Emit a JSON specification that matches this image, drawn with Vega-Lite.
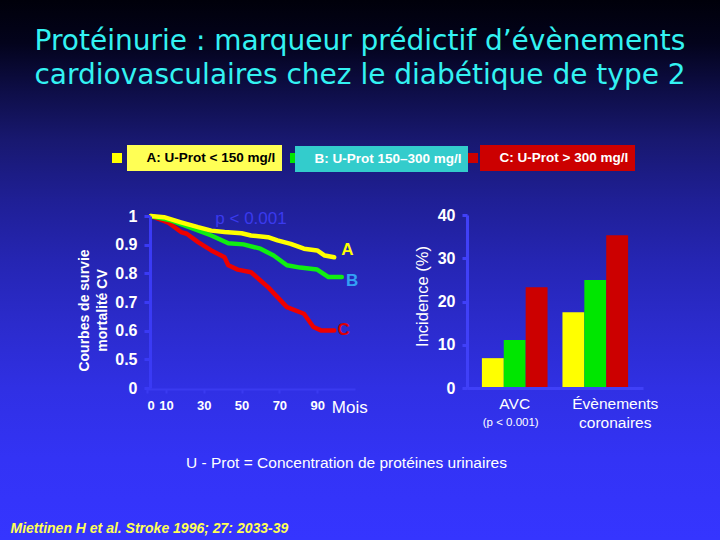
{
  "$schema": "https://vega.github.io/schema/vega-lite/v6.json",
  "width": 720,
  "height": 540,
  "autosize": {"type": "none"},
  "padding": 0,
  "background": "#00000a",
  "config": {"view": {"stroke": null}, "axis": {"grid": false, "zindex": 1}, "font": "Liberation Sans"},
  "title": {
    "text": ["Protéinurie : marqueur prédictif d’évènements", "cardiovasculaires chez le diabétique de type 2"],
    "anchor": "middle",
    "frame": "group",
    "offset": -90,
    "font": "DejaVu Sans",
    "fontSize": 28,
    "fontWeight": "normal",
    "color": "#33f2f2",
    "lineHeight": 34
  },
  "datasets": {
    "surv": [
      {"g": "A", "m": 2, "s": 1.0}, {"g": "A", "m": 9, "s": 0.996}, {"g": "A", "m": 18, "s": 0.978},
      {"g": "A", "m": 27, "s": 0.961}, {"g": "A", "m": 34, "s": 0.949}, {"g": "A", "m": 41, "s": 0.944},
      {"g": "A", "m": 50, "s": 0.94}, {"g": "A", "m": 55, "s": 0.932}, {"g": "A", "m": 64, "s": 0.926},
      {"g": "A", "m": 69, "s": 0.915}, {"g": "A", "m": 76, "s": 0.903}, {"g": "A", "m": 83, "s": 0.886},
      {"g": "A", "m": 90, "s": 0.88}, {"g": "A", "m": 94, "s": 0.862}, {"g": "A", "m": 99, "s": 0.856},
      {"g": "B", "m": 2, "s": 1.0}, {"g": "B", "m": 13, "s": 0.984}, {"g": "B", "m": 23, "s": 0.959},
      {"g": "B", "m": 34, "s": 0.932}, {"g": "B", "m": 43, "s": 0.905}, {"g": "B", "m": 51, "s": 0.901},
      {"g": "B", "m": 60, "s": 0.886}, {"g": "B", "m": 67, "s": 0.862}, {"g": "B", "m": 74, "s": 0.828},
      {"g": "B", "m": 81, "s": 0.82}, {"g": "B", "m": 90, "s": 0.813}, {"g": "B", "m": 96, "s": 0.787},
      {"g": "B", "m": 103, "s": 0.787},
      {"g": "C", "m": 2, "s": 1.0}, {"g": "C", "m": 11, "s": 0.978}, {"g": "C", "m": 18, "s": 0.944},
      {"g": "C", "m": 21, "s": 0.938}, {"g": "C", "m": 27, "s": 0.909}, {"g": "C", "m": 34, "s": 0.88},
      {"g": "C", "m": 41, "s": 0.856}, {"g": "C", "m": 43, "s": 0.828}, {"g": "C", "m": 48, "s": 0.813},
      {"g": "C", "m": 55, "s": 0.804}, {"g": "C", "m": 60, "s": 0.775}, {"g": "C", "m": 64, "s": 0.752},
      {"g": "C", "m": 69, "s": 0.717}, {"g": "C", "m": 74, "s": 0.682}, {"g": "C", "m": 83, "s": 0.659},
      {"g": "C", "m": 88, "s": 0.613}, {"g": "C", "m": 92, "s": 0.601}, {"g": "C", "m": 99, "s": 0.601}
    ],
    "ann": [
      {"t": "A", "m": 106, "s": 0.88},
      {"t": "B", "m": 108.5, "s": 0.772},
      {"t": "C", "m": 104, "s": 0.601},
      {"t": "p < 0.001", "m": 55, "s": 0.99}
    ],
    "inc": [
      {"cat": "AVC", "g": "A", "v": 6.9},
      {"cat": "AVC", "g": "B", "v": 11.1},
      {"cat": "AVC", "g": "C", "v": 23.3},
      {"cat": "Évènements coronaires", "g": "A", "v": 17.5},
      {"cat": "Évènements coronaires", "g": "B", "v": 25.0},
      {"cat": "Évènements coronaires", "g": "C", "v": 35.3}
    ]
  },
  "layer": [
    {
      "data": {"values": [{}]},
      "mark": {
        "type": "rect",
        "strokeWidth": 0,
        "fill": {
          "gradient": "linear", "x1": 0, "y1": 0, "x2": 0, "y2": 1,
          "stops": [
            {"offset": 0, "color": "#00000a"},
            {"offset": 0.08, "color": "#03031c"},
            {"offset": 0.17, "color": "#0e0e48"},
            {"offset": 0.26, "color": "#181870"},
            {"offset": 0.37, "color": "#1f1f95"},
            {"offset": 0.48, "color": "#2525b2"},
            {"offset": 0.6, "color": "#2b2bcc"},
            {"offset": 0.72, "color": "#3030e4"},
            {"offset": 0.85, "color": "#3333f5"},
            {"offset": 1, "color": "#3535ff"}
          ]
        }
      },
      "encoding": {}
    },
    {
      "layer": [
        {
          "data": {"name": "inc"},
          "mark": {"type": "bar"},
          "encoding": {
            "x": {
              "field": "cat", "type": "nominal",
              "scale": {"domain": ["AVC", "Évènements coronaires"], "range": [467, 643], "paddingInner": 0.185, "paddingOuter": 0.185},
              "axis": {
                "orient": "bottom", "offset": -152, "zindex": 1,
                "labelAngle": 0,
                "labelExpr": "datum.label == 'AVC' ? 'AVC' : split(datum.label, ' ')",
                "labelOffset": {"condition": {"test": "datum.value != 'AVC'", "value": 20}, "value": 0},
                "labelColor": "white", "labelFont": "Liberation Sans", "labelFontSize": 15.5, "labelLineHeight": 19,
                "labelPadding": 8, "ticks": false,
                "domainColor": "#4040f8", "domainWidth": 3,
                "title": "U - Prot = Concentration de protéines urinaires",
                "titleX": 346, "titleY": 74, "titleAlign": "center", "titleBaseline": "middle",
                "titleColor": "white", "titleFont": "Liberation Sans", "titleFontSize": 15.5, "titleFontWeight": "normal"
              }
            },
            "xOffset": {"field": "g", "type": "nominal", "scale": {"domain": ["A", "B", "C"], "paddingInner": 0, "paddingOuter": 0}},
            "y": {
              "field": "v", "type": "quantitative",
              "scale": {"domain": [0, 40], "range": [388, 215], "nice": false, "zero": true},
              "axis": {
                "orient": "left", "offset": -467, "zindex": 1,
                "values": [0, 10, 20, 30, 40],
                "labelColor": "white", "labelFont": "Liberation Sans", "labelFontSize": 16, "labelFontWeight": "bold",
                "labelPadding": 7,
                "domainColor": "#4040f8", "domainWidth": 3, "tickColor": "#4040f8", "tickWidth": 3, "tickSize": 5,
                "title": "Incidence (%)",
                "titleX": -45, "titleY": 296, "titleAngle": -90, "titleAlign": "center", "titleBaseline": "middle",
                "titleColor": "white", "titleFont": "Liberation Sans", "titleFontSize": 16.5, "titleFontWeight": "normal"
              }
            },
            "color": {
              "field": "g", "type": "nominal",
              "scale": {"domain": ["A", "B", "C"], "range": ["#ffff00", "#00e600", "#cc0000"]},
              "legend": {
                "orient": "none", "legendX": 112, "legendY": 153, "title": null, "direction": "horizontal",
                "symbolType": "square", "symbolSize": 100, "symbolStrokeWidth": 0, "symbolOpacity": 1,
                "labelExpr": "''", "labelOffset": 0, "columnPadding": 168, "padding": 0, "zindex": 0
              }
            }
          }
        },
        {
          "data": {"values": [{"cat": "AVC", "note": "(p < 0.001)"}]},
          "mark": {"type": "text", "color": "white", "font": "Liberation Sans", "fontSize": 11.5, "dy": 35, "dx": -4},
          "encoding": {
            "x": {"field": "cat", "type": "nominal"},
            "y": {"datum": 0, "type": "quantitative"},
            "text": {"field": "note"}
          }
        }
      ]
    },
    {
      "resolve": {"scale": {"color": "independent"}},
      "layer": [
        {
          "data": {"name": "surv"},
          "transform": [{"filter": "datum.g == 'C'"}],
          "mark": {"type": "line", "strokeWidth": 4.5, "strokeJoin": "round", "strokeCap": "round"},
          "encoding": {
            "x": {
              "field": "m", "type": "quantitative",
              "scale": {"domain": [0, 110], "range": [147, 355], "nice": false, "zero": false},
              "axis": {
                "orient": "bottom", "offset": -151, "zindex": 1,
                "values": [0, 10, 30, 50, 70, 90, 107],
                "labelExpr": "datum.value > 100 ? 'Mois' : datum.label",
                "labelFontSize": {"condition": {"test": "datum.value > 100", "value": 17}, "value": 13},
                "labelFontWeight": {"condition": {"test": "datum.value > 100", "value": "normal"}, "value": "bold"},
                "tickOpacity": {"condition": {"test": "datum.value > 100", "value": 0}, "value": 1},
                "labelColor": "white", "labelPadding": 6, "labelFont": "Liberation Sans",
                "domainColor": "#3a3af0", "domainWidth": 2, "tickColor": "#3a3af0", "tickWidth": 2, "tickSize": 4,
                "title": "Miettinen H et al. Stroke 1996; 27: 2033-39",
                "titleX": 10, "titleY": 139, "titleAlign": "left", "titleBaseline": "middle",
                "titleColor": "#ffff55", "titleFont": "Liberation Sans", "titleFontSize": 14,
                "titleFontStyle": "italic", "titleFontWeight": "bold"
              }
            },
            "y": {
              "field": "s", "type": "quantitative",
              "scale": {"domain": [0.4, 1.0], "range": [388, 216], "nice": false, "zero": false},
              "axis": {
                "orient": "left", "offset": -150, "zindex": 1,
                "values": [0.4, 0.5, 0.6, 0.7, 0.8, 0.9, 1.0],
                "labelExpr": "datum.value < 0.45 ? '0' : datum.value > 0.95 ? '1' : format(datum.value, '.1f')",
                "labelColor": "white", "labelFont": "Liberation Sans", "labelFontSize": 16, "labelFontWeight": "bold",
                "labelPadding": 7,
                "domainColor": "#3a3af5", "domainWidth": 3, "tickColor": "#3a3af5", "tickWidth": 3, "tickSize": 6,
                "title": ["Courbes de survie", "mortalité CV"],
                "titleX": -66, "titleY": 310, "titleAngle": -90, "titleAlign": "center", "titleBaseline": "middle",
                "titleLineHeight": 18, "titleColor": "white", "titleFont": "Liberation Sans", "titleFontSize": 14,
                "titleFontWeight": "bold"
              }
            },
            "color": {
              "field": "g", "type": "nominal",
              "scale": {"domain": ["C"], "range": ["#ee0000"]},
              "legend": {
                "orient": "none", "legendX": 480, "legendY": 145, "title": null, "zindex": 2,
                "fillColor": "#cc0000", "padding": 6,
                "symbolType": "square", "symbolSize": 0, "symbolOpacity": 0, "labelOffset": 0,
                "labelExpr": "'\u00a0C: U-Prot > 300 mg/l\u00a0\u00a0\u00a0'",
                "labelColor": "white", "labelFont": "Liberation Sans", "labelFontSize": 13.5, "labelFontWeight": "bold"
              }
            }
          }
        },
        {
          "data": {"name": "surv"},
          "transform": [{"filter": "datum.g == 'B'"}],
          "mark": {"type": "line", "strokeWidth": 4.5, "strokeJoin": "round", "strokeCap": "round"},
          "encoding": {
            "x": {"field": "m", "type": "quantitative", "scale": {"domain": [0, 110], "range": [147, 355], "nice": false, "zero": false}},
            "y": {"field": "s", "type": "quantitative", "scale": {"domain": [0.4, 1.0], "range": [388, 216], "nice": false, "zero": false}},
            "color": {
              "field": "g", "type": "nominal",
              "scale": {"domain": ["B"], "range": ["#11ee11"]},
              "legend": {
                "orient": "none", "legendX": 295, "legendY": 146, "title": null, "zindex": 2,
                "fillColor": "#33cccc", "padding": 6,
                "symbolType": "square", "symbolSize": 0, "symbolOpacity": 0, "labelOffset": 0,
                "labelExpr": "'\u00a0B: U-Prot 150–300 mg/l\u00a0\u00a0\u00a0'",
                "labelColor": "white", "labelFont": "Liberation Sans", "labelFontSize": 13.5, "labelFontWeight": "bold"
              }
            }
          }
        },
        {
          "data": {"name": "surv"},
          "transform": [{"filter": "datum.g == 'A'"}],
          "mark": {"type": "line", "strokeWidth": 4.5, "strokeJoin": "round", "strokeCap": "round"},
          "encoding": {
            "x": {"field": "m", "type": "quantitative", "scale": {"domain": [0, 110], "range": [147, 355], "nice": false, "zero": false}},
            "y": {"field": "s", "type": "quantitative", "scale": {"domain": [0.4, 1.0], "range": [388, 216], "nice": false, "zero": false}},
            "color": {
              "field": "g", "type": "nominal",
              "scale": {"domain": ["A"], "range": ["#ffff00"]},
              "legend": {
                "orient": "none", "legendX": 127, "legendY": 145, "title": null, "zindex": 2,
                "fillColor": "#ffff55", "padding": 6,
                "symbolType": "square", "symbolSize": 0, "symbolOpacity": 0, "labelOffset": 0,
                "labelExpr": "'\u00a0A: U-Prot < 150 mg/l\u00a0\u00a0\u00a0'",
                "labelColor": "black", "labelFont": "Liberation Sans", "labelFontSize": 13.5, "labelFontWeight": "bold"
              }
            }
          }
        },
        {
          "data": {"name": "ann"},
          "transform": [{"filter": "datum.t == 'A'"}],
          "mark": {"type": "text", "color": "#ffff00", "font": "Liberation Sans", "fontSize": 17, "fontWeight": "bold"},
          "encoding": {
            "x": {"field": "m", "type": "quantitative", "scale": {"domain": [0, 110], "range": [147, 355], "nice": false, "zero": false}},
            "y": {"field": "s", "type": "quantitative", "scale": {"domain": [0.4, 1.0], "range": [388, 216], "nice": false, "zero": false}},
            "text": {"field": "t"}
          }
        },
        {
          "data": {"name": "ann"},
          "transform": [{"filter": "datum.t == 'B'"}],
          "mark": {"type": "text", "color": "#33a0f5", "font": "Liberation Sans", "fontSize": 17, "fontWeight": "bold"},
          "encoding": {
            "x": {"field": "m", "type": "quantitative", "scale": {"domain": [0, 110], "range": [147, 355], "nice": false, "zero": false}},
            "y": {"field": "s", "type": "quantitative", "scale": {"domain": [0.4, 1.0], "range": [388, 216], "nice": false, "zero": false}},
            "text": {"field": "t"}
          }
        },
        {
          "data": {"name": "ann"},
          "transform": [{"filter": "datum.t == 'C'"}],
          "mark": {"type": "text", "color": "#dd0000", "font": "Liberation Sans", "fontSize": 17, "fontWeight": "bold"},
          "encoding": {
            "x": {"field": "m", "type": "quantitative", "scale": {"domain": [0, 110], "range": [147, 355], "nice": false, "zero": false}},
            "y": {"field": "s", "type": "quantitative", "scale": {"domain": [0.4, 1.0], "range": [388, 216], "nice": false, "zero": false}},
            "text": {"field": "t"}
          }
        },
        {
          "data": {"name": "ann"},
          "transform": [{"filter": "datum.t == 'p < 0.001'"}],
          "mark": {"type": "text", "color": "#3a3aee", "font": "Liberation Sans", "fontSize": 17},
          "encoding": {
            "x": {"field": "m", "type": "quantitative", "scale": {"domain": [0, 110], "range": [147, 355], "nice": false, "zero": false}},
            "y": {"field": "s", "type": "quantitative", "scale": {"domain": [0.4, 1.0], "range": [388, 216], "nice": false, "zero": false}},
            "text": {"field": "t"}
          }
        }
      ]
    }
  ],
  "resolve": {"scale": {"x": "independent", "y": "independent", "color": "independent"}}
}
